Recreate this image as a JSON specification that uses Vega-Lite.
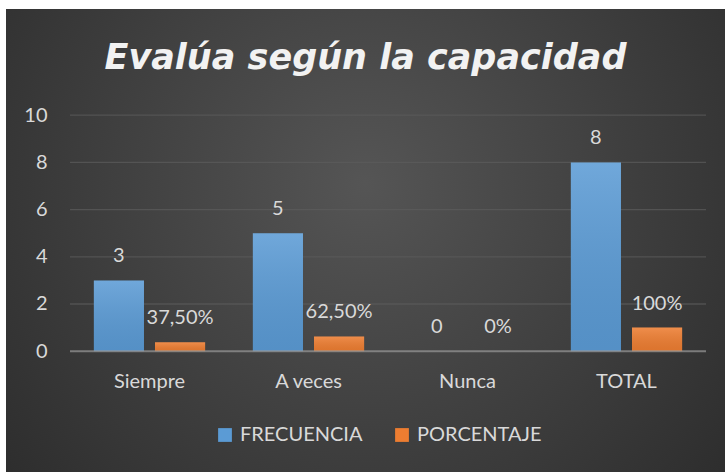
{
  "$schema": "https://vega.github.io/schema/vega-lite/v6.json",
  "width": 719,
  "height": 463,
  "autosize": "none",
  "padding": {"left": 6, "top": 9, "right": 0, "bottom": 0},
  "background": "#ffffff",
  "title": {
    "text": "Evalúa según la capacidad",
    "font": "DejaVu Sans",
    "fontSize": 35,
    "fontStyle": "italic",
    "fontWeight": "bold",
    "color": "#f2f2f2",
    "anchor": "middle",
    "frame": "group",
    "offset": -67
  },
  "datasets": {
    "barras": [
      {"categoria": "Siempre", "serie": "FRECUENCIA", "valor": 3, "etiqueta": "3"},
      {"categoria": "Siempre", "serie": "PORCENTAJE", "valor": 0.375, "etiqueta": "37,50%"},
      {"categoria": "A veces", "serie": "FRECUENCIA", "valor": 5, "etiqueta": "5"},
      {"categoria": "A veces", "serie": "PORCENTAJE", "valor": 0.625, "etiqueta": "62,50%"},
      {"categoria": "Nunca", "serie": "FRECUENCIA", "valor": 0, "etiqueta": "0"},
      {"categoria": "Nunca", "serie": "PORCENTAJE", "valor": 0, "etiqueta": "0%"},
      {"categoria": "TOTAL", "serie": "FRECUENCIA", "valor": 8, "etiqueta": "8"},
      {"categoria": "TOTAL", "serie": "PORCENTAJE", "valor": 1, "etiqueta": "100%"}
    ],
    "rejilla": [{"g": 0}, {"g": 2}, {"g": 4}, {"g": 6}, {"g": 8}, {"g": 10}]
  },
  "config": {
    "view": {
      "stroke": null,
      "fill": {
        "gradient": "radial",
        "x1": 0.5, "y1": 0.42, "r1": 0,
        "x2": 0.5, "y2": 0.42, "r2": 0.75,
        "stops": [
          {"offset": 0, "color": "#555555"},
          {"offset": 1, "color": "#272727"}
        ]
      }
    },
    "font": "Lato",
    "axis": {"title": null}
  },
  "layer": [
    {
      "data": {"name": "rejilla"},
      "transform": [{"filter": "datum.g > 0"}],
      "mark": {"type": "tick", "size": 636, "thickness": 1.3, "color": "#5c5c5c", "xOffset": -79.5},
      "encoding": {
        "x": {"datum": "Nunca", "type": "nominal"},
        "y": {"field": "g", "type": "quantitative"}
      }
    },
    {
      "data": {"name": "barras"},
      "mark": {"type": "bar"},
      "encoding": {
        "x": {
          "field": "categoria",
          "type": "nominal",
          "scale": {"domain": ["Siempre", "A veces", "Nunca", "TOTAL"], "paddingInner": 0, "paddingOuter": 0.261, "align": 0.771},
          "axis": {"title": null, "orient": "bottom", "offset": -121, "domain": false, "ticks": false, "grid": false, "labelAngle": 0, "labelAlign": "center", "labelPadding": 30, "labelFontSize": 20, "labelFont": "Lato", "labelColor": "#d9d9d9"}
        },
        "xOffset": {"field": "serie", "type": "nominal", "scale": {"paddingInner": 0.18, "paddingOuter": 0.39}},
        "y": {
          "field": "valor",
          "type": "quantitative",
          "scale": {"domain": [-5.12, 14.5], "nice": false},
          "axis": {"title": null, "values": [0, 2, 4, 6, 8, 10], "offset": -44, "domain": false, "ticks": false, "grid": false, "labelPadding": 3, "labelFontSize": 20, "labelFont": "Lato", "labelColor": "#d9d9d9"}
        },
        "color": {
          "field": "serie",
          "type": "nominal",
          "scale": {"domain": ["FRECUENCIA", "PORCENTAJE"], "range": ["#5b9bd5", "#ed7d31"]},
          "legend": {"title": null, "orient": "none", "legendX": 209, "legendY": 416, "direction": "horizontal", "symbolType": "square", "symbolSize": 190, "symbolStrokeWidth": 0, "symbolOpacity": 1, "labelFontSize": 20, "labelFont": "Lato", "labelColor": "#d9d9d9", "labelOffset": 5, "columnPadding": 29, "padding": 0}
        }
      }
    },
    {
      "data": {"name": "barras"},
      "mark": {
        "type": "bar",
        "color": {
          "gradient": "linear",
          "x1": 0, "y1": 0, "x2": 0, "y2": 1,
          "stops": [
            {"offset": 0, "color": "rgba(255,255,255,0.13)"},
            {"offset": 1, "color": "rgba(0,0,0,0.07)"}
          ]
        }
      },
      "encoding": {
        "x": {"field": "categoria", "type": "nominal"},
        "xOffset": {"field": "serie", "type": "nominal"},
        "y": {"field": "valor", "type": "quantitative"}
      }
    },
    {
      "data": {"name": "rejilla"},
      "transform": [{"filter": "datum.g == 0"}],
      "mark": {"type": "tick", "size": 636, "thickness": 2, "color": "#9a9a9a", "xOffset": -79.5},
      "encoding": {
        "x": {"datum": "Nunca", "type": "nominal"},
        "y": {"field": "g", "type": "quantitative"}
      }
    },
    {
      "data": {"name": "barras"},
      "mark": {"type": "text", "baseline": "alphabetic", "dy": -18, "fontSize": 20, "font": "Lato", "color": "#d9d9d9"},
      "encoding": {
        "x": {"field": "categoria", "type": "nominal"},
        "xOffset": {"field": "serie", "type": "nominal"},
        "y": {"field": "valor", "type": "quantitative"},
        "text": {"field": "etiqueta"}
      }
    }
  ]
}
